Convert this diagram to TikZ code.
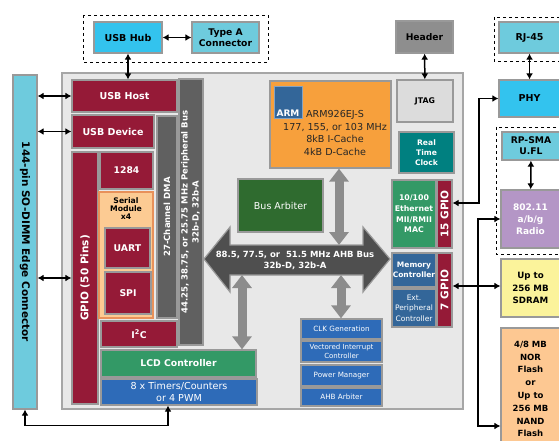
\documentclass[tikz,border=0pt]{standalone}
\usepackage{fontspec}
\setmainfont{DejaVu Sans}
\usepackage{graphicx}
\usetikzlibrary{arrows.meta}

\definecolor{cyanlt}{HTML}{6ECBDD}
\definecolor{cyanbr}{HTML}{33C3EE}
\definecolor{crimson}{HTML}{951A37}
\definecolor{bardark}{HTML}{606060}
\definecolor{chipbg}{HTML}{E8E8E8}
\definecolor{armorange}{HTML}{F7A03C}
\definecolor{armblue}{HTML}{336699}
\definecolor{arbgreen}{HTML}{2F6B2F}
\definecolor{blkgreen}{HTML}{339966}
\definecolor{blkblue}{HTML}{2E6BB8}
\definecolor{memblue}{HTML}{336699}
\definecolor{rtcteal}{HTML}{008080}
\definecolor{radiopurple}{HTML}{B496C6}
\definecolor{sdramyellow}{HTML}{FBF39B}
\definecolor{peach}{HTML}{FDC892}
\definecolor{serialfill}{HTML}{FCCB93}
\definecolor{serialdraw}{HTML}{E8915A}
\definecolor{hdrgray}{HTML}{8E8E8E}
\definecolor{jtaggray}{HTML}{DCDCDC}
\definecolor{bigarrow}{HTML}{8C8C8C}
\definecolor{ahbgray}{HTML}{4F4F4F}

\newcommand{\fsz}[2]{\fontsize{#1}{#2}\selectfont}

\tikzset{
  blk/.style={draw=black!40, line width=1.3pt, inner sep=0pt, align=center, text=white},
  dbl/.style={{Latex[length=6pt,width=7pt]}-{Latex[length=6pt,width=7pt]}, line width=1.5pt},
  garrow/.style={{Triangle[length=13pt,width=19pt]}-{Triangle[length=13pt,width=19pt]}, line width=9pt, draw=bigarrow},
  grp/.style={draw, dashed, line width=0.8pt}
}

\begin{document}
\begin{tikzpicture}[x=1pt,y=-1pt]
\useasboundingbox (0,0) rectangle (559,441);
\draw[fill=chipbg, draw=black!35, line width=1.2pt] (62,73) rectangle (463,409);

\draw[grp] (83,15) rectangle (268,62);
\node[blk, fill=cyanbr, text=black, minimum width=68pt, minimum height=31pt, font=\bfseries\fsz{9.5}{11}] (usbhub) at (128,37.5) {USB Hub};
\node[blk, fill=cyanlt, text=black, minimum width=67pt, minimum height=31pt, font=\bfseries\fsz{9.2}{11}] (typea) at (225.5,37.5) {Type A\\Connector};
\node[blk, fill=hdrgray, text=black, minimum width=57pt, minimum height=32pt, font=\bfseries\fsz{9.2}{11}] (header) at (424.5,37) {Header};

\draw[grp] (494,17) rectangle (570,61);
\node[blk, fill=cyanlt, text=black, minimum width=61pt, minimum height=31pt, font=\bfseries\fsz{9.5}{11}] (rj45) at (529.5,37.5) {RJ-45};
\node[blk, fill=cyanbr, text=black, minimum width=61pt, minimum height=37pt, font=\bfseries\fsz{9.5}{11}] (phy) at (529.5,98.5) {PHY};
\draw[grp] (496,127) rectangle (570,254);
\node[blk, fill=cyanlt, text=black, minimum width=58pt, minimum height=28pt, font=\bfseries\fsz{9.2}{11}] (rpsma) at (531,146) {RP-SMA\\U.FL};
\node[blk, fill=radiopurple, minimum width=59pt, minimum height=58pt, font=\bfseries\fsz{9}{12}] (radio) at (530.5,219) {802.11\\a/b/g\\Radio};
\node[blk, fill=sdramyellow, text=black, minimum width=59pt, minimum height=58pt, font=\bfseries\fsz{8.7}{12.5}] (sdram) at (530.5,288) {Up to\\256 MB\\SDRAM};
\node[blk, fill=peach, text=black, minimum width=59pt, minimum height=122pt, font=\bfseries\fsz{8.5}{12.8}] (flash) at (530.5,389) {4/8 MB\\NOR\\Flash\\or\\Up to\\256 MB\\NAND\\Flash};

\node[blk, fill=cyanlt, text=black, minimum width=24pt, minimum height=334pt, font=\bfseries\fsz{10.5}{12}] (sodimm) at (25,242) {\rotatebox{-90}{144-pin SO-DIMM Edge Connector}};

\node[blk, fill=bardark, minimum width=24pt, minimum height=266pt, font=\bfseries\fsz{8.5}{11}] (perbus) at (191,212) {\rotatebox{90}{\begin{tabular}{@{}c@{}}44.25, 38.75, or 25.75 MHz Peripheral Bus\\32b-D, 32b-A\end{tabular}}};
\node[blk, fill=bardark, minimum width=20pt, minimum height=202pt, font=\bfseries\fsz{8.5}{11}] (dma) at (167,217) {\rotatebox{90}{27-Channel DMA}};
\node[blk, fill=crimson, minimum width=105pt, minimum height=32pt, font=\bfseries\fsz{9.5}{11}] (usbhost) at (124.5,96) {USB Host};
\node[blk, fill=crimson, minimum width=82pt, minimum height=33pt, font=\bfseries\fsz{9.5}{11}] (usbdev) at (113,131.5) {USB Device};
\node[blk, fill=crimson, minimum width=26pt, minimum height=252pt, font=\bfseries\fsz{10.5}{12}] (gpio50) at (85,278) {\rotatebox{90}{GPIO (50 Pins)}};
\node[blk, fill=crimson, minimum width=53pt, minimum height=37pt, font=\bfseries\fsz{9.2}{11}] (p1284) at (126.5,170.5) {1284};
\node[blk, fill=serialfill, draw=serialdraw, minimum width=54pt, minimum height=126pt,
  label={[font=\bfseries\fsz{7.7}{8}, align=center, anchor=north, inner sep=0pt, yshift=-6pt]north:Serial\\Module\\x4}] (serial) at (126,255) {};
\node[blk, fill=crimson, minimum width=45pt, minimum height=40pt, font=\bfseries\fsz{9.3}{11}] (uart) at (127.5,248) {UART};
\node[blk, fill=crimson, minimum width=46pt, minimum height=42pt, font=\bfseries\fsz{9.3}{11}] (spi) at (128,293) {SPI};
\node[blk, fill=crimson, minimum width=76pt, minimum height=26pt, font=\bfseries\fsz{9.3}{11}] (i2c) at (139,334) {I\textsuperscript{2}C};
\node[blk, fill=blkgreen, minimum width=155pt, minimum height=27pt, font=\bfseries\fsz{9.3}{11}] (lcd) at (178.5,363.5) {LCD Controller};
\node[blk, fill=blkblue, minimum width=156pt, minimum height=26pt, font=\fsz{9.6}{12.5}] (timers) at (179,392) {8 x Timers/Counters\\or 4 PWM};

\node[blk, fill=armorange, minimum width=121pt, minimum height=87pt] (arm) at (330.5,124.5) {};
\node[blk, fill=armblue, draw=armblue!60!white, line width=0.8pt, minimum width=28pt, minimum height=32pt,
  label={[font=\bfseries\fsz{9}{10}, text=white, anchor=south, inner sep=1.5pt]south:ARM}] (armlogo) at (288,102) {};
\node[align=center, text=black!85, inner sep=0pt, font=\fsz{9.6}{12.8}] (armtxt) at (335,133) {ARM926EJ-S\\177, 155, or 103 MHz\\8kB I-Cache\\4kB D-Cache};
\node[blk, fill=arbgreen, minimum width=85pt, minimum height=53pt, font=\fsz{9.5}{11}] (busarb) at (280.5,205.5) {Bus Arbiter};

\node[blk, fill=jtaggray, text=black, minimum width=56pt, minimum height=42pt, font=\bfseries\fsz{7.8}{9}] (jtag) at (425,101) {JTAG};
\node[blk, fill=rtcteal, minimum width=55pt, minimum height=41pt, font=\bfseries\fsz{7.6}{9.7}] (rtc) at (426.5,152.5) {Real\\Time\\Clock};
\node[blk, fill=blkgreen, minimum width=44pt, minimum height=68pt, font=\bfseries\fsz{7.8}{10.7}] (eth) at (414,214) {10/100\\Ethernet\\MII/RMII\\MAC};
\node[blk, fill=crimson, minimum width=15pt, minimum height=68pt, font=\bfseries\fsz{10.5}{12}] (gpio15) at (444.5,214) {\rotatebox{90}{15 GPIO}};
\node[blk, fill=memblue, minimum width=44pt, minimum height=34pt, font=\bfseries\fsz{7.5}{10}] (memctl) at (414,270) {Memory\\Controller};
\node[blk, fill=memblue, minimum width=44pt, minimum height=38pt, font=\fsz{7.5}{10.5}] (extper) at (414,308) {Ext.\\Peripheral\\Controller};
\node[blk, fill=crimson, minimum width=15pt, minimum height=74pt, font=\bfseries\fsz{10.5}{12}] (gpio7) at (444.5,290) {\rotatebox{90}{7 GPIO}};

\node[blk, fill=blkblue, minimum width=81pt, minimum height=20pt, font=\fsz{7.2}{9}] (clk) at (341.5,329) {CLK Generation};
\node[blk, fill=blkblue, minimum width=81pt, minimum height=21pt, font=\fsz{7}{9.5}] (vic) at (341.5,351.5) {Vectored Interrupt\\Controller};
\node[blk, fill=blkblue, minimum width=81pt, minimum height=21pt, font=\fsz{7.2}{9}] (pwr) at (341.5,375.5) {Power Manager};
\node[blk, fill=blkblue, minimum width=81pt, minimum height=18pt, font=\fsz{7.2}{9}] (ahbarb) at (341.5,397) {AHB Arbiter};

\coordinate (bustop) at (339,245);
\coordinate (buslft) at (242,275);
\coordinate (busrgt) at (341,275);
\draw[garrow] (arm.south -| bustop) -- (bustop);
\draw[garrow] (buslft) -- (buslft |- lcd.north);
\draw[garrow] (busrgt) -- (busrgt |- clk.north);
\draw[fill=ahbgray, draw=black!40, line width=1.2pt] (204,259) -- (230,227) -- (230,245) -- (363,245)
  -- (363,227) -- (390,259) -- (363,292) -- (363,275) -- (230,275) -- (230,292) -- cycle;
\node[align=center, text=white, inner sep=0pt, font=\bfseries\fsz{8.5}{11}] (ahb) at (295,260) {88.5, 77.5, or\ \ 51.5 MHz AHB Bus\\32b-D, 32b-A};

\draw[dbl] (usbhub) -- (typea);
\draw[dbl] (usbhub.south) -- (usbhub.south |- usbhost.north);
\draw[dbl] (sodimm.east |- usbhost) -- (usbhost.west);
\draw[dbl] (sodimm.east |- usbdev) -- (usbdev.west);
\draw[dbl] (sodimm.east |- gpio50) -- (gpio50.west);
\draw[dbl] (sodimm.south) -- ++(0,16) -| ([xshift=-11pt]timers.south);
\draw[dbl] (header) -- (jtag);
\draw[dbl] (rj45) -- (phy);
\draw[dbl] (rpsma) -- (radio);
\coordinate (ethbus) at (479,203);
\draw[dbl] (phy.west) -| (ethbus) -- (gpio15.east |- ethbus);
\coordinate (membus) at (478,286);
\coordinate (flashin) at (501,426);
\draw[dbl] (gpio7.east |- membus) -- (sdram.west |- membus);
\draw[dbl] (radio.west) -| (membus) |- (flash.west |- flashin);
\end{tikzpicture}
\end{document}
